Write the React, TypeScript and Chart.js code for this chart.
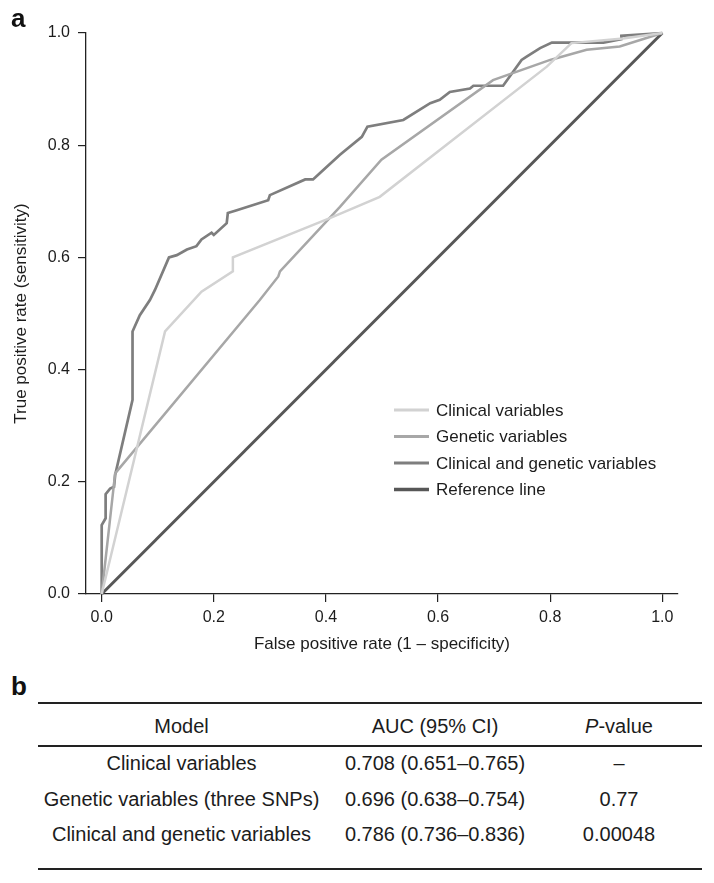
import React, { useEffect, useRef } from "react";
import { Chart, registerables } from "chart.js";

Chart.register(...registerables);

// ---- Data ----
const clinicalFpr = [0, 0.113, 0.178, 0.234, 0.234, 0.407, 0.496, 0.794, 0.838, 0.93, 1.0];
const clinicalTpr = [0, 0.468, 0.539, 0.575, 0.6, 0.67, 0.708, 0.94, 0.982, 0.99, 1.0];

const geneticFpr = [0, 0.024, 0.282, 0.315, 0.318, 0.425, 0.499, 0.698, 0.8, 0.865, 0.924, 1.0];
const geneticTpr = [0, 0.215, 0.524, 0.566, 0.575, 0.69, 0.774, 0.916, 0.952, 0.97, 0.976, 1.0];

const combinedFpr = [
  0, 0, 0.007, 0.007, 0.015, 0.022, 0.024, 0.055, 0.055, 0.068, 0.086, 0.095, 0.12, 0.134, 0.152,
  0.169, 0.178, 0.196, 0.2, 0.223, 0.225, 0.241, 0.297, 0.3, 0.363, 0.377, 0.389, 0.425, 0.464,
  0.474, 0.538, 0.586, 0.603, 0.621, 0.657, 0.663, 0.716, 0.749, 0.758, 0.782, 0.803, 0.895, 0.927,
  0.927, 1.0,
];
const combinedTpr = [
  0, 0.123, 0.135, 0.178, 0.188, 0.191, 0.212, 0.346, 0.468, 0.497, 0.524, 0.542, 0.6, 0.604, 0.614,
  0.62, 0.632, 0.644, 0.64, 0.661, 0.679, 0.684, 0.702, 0.711, 0.739, 0.739, 0.75, 0.783, 0.815,
  0.833, 0.845, 0.875, 0.881, 0.895, 0.901, 0.906, 0.906, 0.952, 0.958, 0.973, 0.983, 0.983, 0.989,
  0.995, 1.0,
];

const referenceFpr = [0, 1];
const referenceTpr = [0, 1];

const seriesLabels = [
  "Clinical variables",
  "Genetic variables",
  "Clinical and genetic variables",
  "Reference line",
];

const xTickValues = [0, 0.2, 0.4, 0.6, 0.8, 1.0];
const yTickValues = [0, 0.2, 0.4, 0.6, 0.8, 1.0];

const tableHeader = ["Model", "AUC (95% CI)", "P-value"];
const tableModels = [
  "Clinical variables",
  "Genetic variables (three SNPs)",
  "Clinical and genetic variables",
];
const tableAuc = ["0.708 (0.651–0.765)", "0.696 (0.638–0.754)", "0.786 (0.736–0.836)"];
const tablePValues = ["–", "0.77", "0.00048"];

// ---- Styling ----
const FONT = '"Liberation Sans", Arial, Helvetica, sans-serif';
const TEXT = "#1c1c1c";
const AXIS = "#222";
const colors = ["#d2d2d2", "#a7a7a7", "#7e7e7e", "#575757"];
const widths = [2.5, 2.5, 2.7, 3];

const toPoints = (xs: number[], ys: number[]) => xs.map((x, i) => ({ x, y: ys[i] }));

const insideLegend = {
  id: "insideLegend",
  afterDatasetsDraw(chart: any) {
    const ctx = chart.ctx;
    const x0 = 394;
    const y0 = 410;
    const dy = 26.5;
    chart.data.datasets.forEach((ds: any, i: number) => {
      const y = y0 + i * dy;
      ctx.save();
      ctx.strokeStyle = ds.borderColor;
      ctx.lineWidth = ds.borderWidth + 0.5;
      ctx.beginPath();
      ctx.moveTo(x0, y);
      ctx.lineTo(x0 + 35, y);
      ctx.stroke();
      ctx.fillStyle = TEXT;
      ctx.font = `17px ${FONT}`;
      ctx.textBaseline = "middle";
      ctx.textAlign = "left";
      ctx.fillText(ds.label, x0 + 42, y + 1);
      ctx.restore();
    });
  },
};

function RocChart() {
  const ref = useRef<HTMLCanvasElement | null>(null);
  useEffect(() => {
    if (!ref.current) return;
    const seriesX = [clinicalFpr, geneticFpr, combinedFpr, referenceFpr];
    const seriesY = [clinicalTpr, geneticTpr, combinedTpr, referenceTpr];
    const chart = new Chart(ref.current, {
      type: "scatter",
      data: {
        datasets: seriesLabels.map((label, i) => ({
          label,
          data: toPoints(seriesX[i], seriesY[i]),
          showLine: true,
          borderColor: colors[i],
          backgroundColor: colors[i],
          borderWidth: widths[i],
          pointRadius: 0,
          tension: 0,
          clip: false as any,
        })),
      },
      options: {
        responsive: false,
        animation: false,
        devicePixelRatio: 1,
        layout: { padding: { left: 0, right: 36, top: 33, bottom: 0 } },
        plugins: { legend: { display: false }, tooltip: { enabled: false } },
        events: [],
        scales: {
          x: {
            type: "linear",
            min: -0.028,
            max: 1.028,
            afterBuildTicks: (scale: any) => {
              scale.ticks = xTickValues.map((v) => ({ value: v }));
            },
            afterFit: (scale: any) => {
              scale.height = 66;
            },
            ticks: {
              callback: (v: any) => Number(v).toFixed(1),
              color: TEXT,
              font: { family: FONT, size: 16 },
              padding: 6,
              maxRotation: 0,
            },
            grid: {
              display: true,
              drawOnChartArea: false,
              drawTicks: true,
              tickLength: 8,
              color: AXIS,
              lineWidth: 1.2,
            },
            border: { display: true, color: AXIS, width: 1.3 },
            title: {
              display: true,
              text: "False positive rate (1 – specificity)",
              color: TEXT,
              font: { family: FONT, size: 17 },
              padding: { top: 0, bottom: 5 },
            },
          },
          y: {
            type: "linear",
            min: 0,
            max: 1,
            afterBuildTicks: (scale: any) => {
              scale.ticks = yTickValues.map((v) => ({ value: v }));
            },
            afterFit: (scale: any) => {
              scale.width = 86;
            },
            ticks: {
              callback: (v: any) => Number(v).toFixed(1),
              color: TEXT,
              font: { family: FONT, size: 16 },
              padding: 8,
            },
            grid: {
              display: true,
              drawOnChartArea: false,
              drawTicks: true,
              tickLength: 8,
              color: AXIS,
              lineWidth: 1.2,
            },
            border: { display: true, color: AXIS, width: 1.3 },
            title: {
              display: true,
              text: "True positive rate (sensitivity)",
              color: TEXT,
              font: { family: FONT, size: 17 },
              padding: { top: 11, bottom: 0 },
            },
          },
        },
      } as any,
      plugins: [insideLegend],
    });
    return () => chart.destroy();
  }, []);
  return (
    <canvas
      ref={ref}
      width={714}
      height={660}
      style={{ position: "absolute", left: 0, top: 0, width: 714, height: 660 }}
    />
  );
}

const colLeft = [38, 325, 545];
const colWidth = [287, 220, 148];
const rowCenters = [726, 763, 799, 834];
const ruleY = [703, 746, 869];

function Cell({ text, col, center, italicP }: { text: string; col: number; center: number; italicP?: boolean }) {
  const h = 30;
  return (
    <div
      style={{
        position: "absolute",
        left: colLeft[col],
        width: colWidth[col],
        top: center - h / 2,
        height: h,
        lineHeight: `${h}px`,
        textAlign: "center",
        fontFamily: FONT,
        fontSize: 20,
        color: TEXT,
        whiteSpace: "nowrap",
      }}
    >
      {italicP ? (
        <>
          <i>{text.slice(0, 1)}</i>
          {text.slice(1)}
        </>
      ) : (
        text
      )}
    </div>
  );
}

export default function App() {
  return (
    <div
      style={{
        position: "absolute",
        left: 0,
        top: 0,
        width: 714,
        height: 883,
        background: "#fff",
        overflow: "hidden",
      }}
    >
      <RocChart />
      <div
        style={{
          position: "absolute",
          left: 11,
          top: 5,
          fontFamily: FONT,
          fontWeight: "bold",
          fontSize: 26,
          lineHeight: "26px",
          color: "#111",
        }}
      >
        a
      </div>
      <div
        style={{
          position: "absolute",
          left: 11,
          top: 673,
          fontFamily: FONT,
          fontWeight: "bold",
          fontSize: 26,
          lineHeight: "26px",
          color: "#111",
        }}
      >
        b
      </div>
      {ruleY.map((y, i) => (
        <div
          key={i}
          style={{
            position: "absolute",
            left: 38,
            width: 664,
            top: y - 0.75,
            height: 1.5,
            background: "#222",
          }}
        />
      ))}
      {tableHeader.map((t, c) => (
        <Cell key={"h" + c} text={t} col={c} center={rowCenters[0]} italicP={c === 2} />
      ))}
      {tableModels.map((m, r) => (
        <React.Fragment key={"r" + r}>
          <Cell text={m} col={0} center={rowCenters[r + 1]} />
          <Cell text={tableAuc[r]} col={1} center={rowCenters[r + 1]} />
          <Cell text={tablePValues[r]} col={2} center={rowCenters[r + 1]} />
        </React.Fragment>
      ))}
    </div>
  );
}
